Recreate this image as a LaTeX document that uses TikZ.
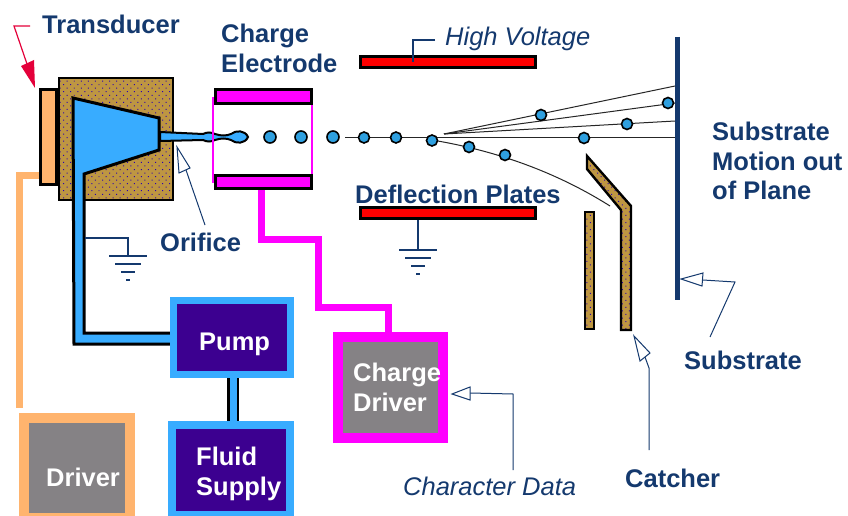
\documentclass[tikz,border=0pt]{standalone}
\usepackage{fontspec}
\setmainfont{Liberation Sans}
\usetikzlibrary{patterns.meta,arrows.meta}
\definecolor{navy}{HTML}{14396E}
\definecolor{skyb}{HTML}{38ACFF}
\definecolor{orng}{HTML}{FFB46E}
\definecolor{brwn}{HTML}{BE9642}
\definecolor{purp}{HTML}{3C0090}
\definecolor{gry}{HTML}{858285}
\definecolor{mag}{HTML}{FF00FF}
\definecolor{dropb}{HTML}{2FA0E0}
\definecolor{crim}{HTML}{E4003A}
\tikzset{
  lab/.style={anchor=base west,inner sep=0pt,text=navy,font=\fontsize{25.5}{26}\selectfont\bfseries},
  ital/.style={anchor=base west,inner sep=0pt,text=navy,font=\fontsize{25.5}{26}\selectfont\itshape},
  wlab/.style={anchor=base west,inner sep=0pt,text=white,font=\fontsize{25.5}{26}\selectfont\bfseries},
  drop/.style={circle,draw=black,line width=1.6pt,fill=dropb,minimum size=11pt,inner sep=0pt},
  smalldrop/.style={drop,minimum size=12pt},
  lead/.style={draw=navy,line width=1.2pt},
  traj/.style={draw=black!85,line width=1pt},
  plate/.style={draw=black,line width=3pt,fill=red},
  mplate/.style={draw=black,line width=3pt,fill=mag},
  brownfill/.style={fill=brwn},
  dots/.style={pattern={Dots[distance=5pt,radius=0.7pt,angle=45]},pattern color=purp!70!blue},
  openhead/.style={draw=navy,line width=1pt,fill=white,line join=miter},
}
\newcommand{\groundsym}[2]{%
  \draw[navy,line width=1.6pt] (#1-19,#2) -- (#1+19,#2);
  \draw[navy,line width=1.6pt] (#1-13,#2+8) -- (#1+13,#2+8);
  \draw[navy,line width=1.6pt] (#1-7,#2+16) -- (#1+7,#2+16);
  \draw[navy,line width=1.6pt] (#1-2,#2+24) -- (#1+2,#2+24);
}
\begin{document}
\begin{tikzpicture}[x=1pt,y=-1pt]
\useasboundingbox (0,0) rectangle (848,516);
\fill[white] (0,0) rectangle (848,516);

% transducer body
\path[brownfill] (59,78) rectangle (173,200);
\path[dots] (59,78) rectangle (173,200);
\draw[black,line width=2pt] (59,78) rectangle (173,200);
\node[draw=black,line width=3pt,fill=orng,minimum width=16pt,minimum height=94pt,inner sep=0pt] (plate) at (48,137) {};

% nozzle and pipe
\draw[black,line width=3pt,fill=skyb,line join=miter] (73,98) -- (159,118) -- (159,150) -- (84,174) -- (84,333) -- (175,333) -- (175,344) -- (74,344) -- cycle;

% connectors under the boxes
\coordinate (pf1) at (233,375);
\coordinate (pf2) at (233,425);
\draw[black,line width=12pt] (pf1) -- (pf2);
\draw[skyb,line width=7pt] (pf1) -- (pf2);
\coordinate (o1) at (19,175);
\draw[orng,line width=7pt] (plate.west |- o1) -- (o1) -- (19,408);
\draw[mag,line width=7pt] (261,190) -- (261,239.5) -- (318.5,239.5) -- (318.5,307.5) -- (388.5,307.5) -- (388.5,332);

% box nodes
\node[draw=skyb,line width=7pt,fill=purp,minimum width=117pt,minimum height=74pt,inner sep=0pt] (pump) at (232,337.5) {};
\node[draw=skyb,line width=8pt,fill=purp,minimum width=118pt,minimum height=90pt,inner sep=0pt] (fluid) at (231,470) {};
\node[draw=mag,line width=10pt,fill=gry,minimum width=105pt,minimum height=101pt,inner sep=0pt] (cdriver) at (390.5,387.5) {};
\node[draw=orng,line width=10pt,fill=gry,minimum width=106pt,minimum height=100pt,inner sep=0pt] (driver) at (77,468) {};

% jet
\draw[black,line width=2pt,fill=skyb] (160,132) -- (203,134) .. controls (207,132) and (211,132) .. (215,134) .. controls (221,136) and (226,136) .. (231,134) .. controls (236,130) and (245,130) .. (248,137) .. controls (245,144) and (236,144) .. (231,140) .. controls (226,138) and (221,138) .. (215,140) .. controls (211,142) and (207,142) .. (203,140) -- (160,141) -- cycle;

% charge electrode
\draw[mag,line width=1.5pt] (213,97) -- (213,183);
\draw[mag,line width=1.5pt] (312,97) -- (312,183);
\node[mplate,minimum width=96pt,minimum height=14pt,inner sep=0pt] (ctop) at (263.5,97) {};
\node[mplate,minimum width=96pt,minimum height=13pt,inner sep=0pt] (cbot) at (263.5,182) {};

% deflection plates
\node[plate,minimum width=175pt,minimum height=11pt,inner sep=0pt] (hv) at (448,62) {};
\node[plate,minimum width=175pt,minimum height=11pt,inner sep=0pt] (dp) at (448,213) {};

% substrate
\draw[navy,line width=5pt] (677,37) -- (677,300);
\coordinate (src) at (444,134);
\draw[traj] (345,137.5) -- (675,137.5);
\draw[traj] (src) -- (675,86);
\draw[traj] (src) -- (675,103);
\draw[traj] (src) -- (675,121);
\draw[traj] (432,140) .. controls (480,148) and (545,165) .. (610,206);

% catcher
\path[brownfill] (587,156) -- (631,206) -- (631,330) -- (621,330) -- (621,210) -- (587,169) -- cycle;
\path[dots] (587,156) -- (631,206) -- (631,330) -- (621,330) -- (621,210) -- (587,169) -- cycle;
\draw[black,line width=2.4pt] (587,156) -- (631,206) -- (631,330) -- (621,330) -- (621,210) -- (587,169) -- cycle;
\path[brownfill] (585,212) rectangle (594,329);
\path[dots] (585,212) rectangle (594,329);
\draw[black,line width=2.4pt] (585,212) rectangle (594,329);

% drops
\node[smalldrop] (d1) at (270,137) {};
\node[smalldrop] (d2) at (301,137) {};
\node[smalldrop] (d3) at (333,137) {};
\node[drop] (e1) at (364,137.5) {};
\node[drop] (e2) at (396,137.5) {};
\node[drop] (e3) at (432,140.5) {};
\node[drop] (e4) at (469,147) {};
\node[drop] (e5) at (505,155) {};
\node[drop] (e6) at (541,115) {};
\node[drop] (e7) at (584,138) {};
\node[drop] (e8) at (627,124) {};
\node[drop] (e9) at (668,103) {};

% grounds
\draw[navy,line width=1.5pt] (85,238) -- (128,238) -- (128,256);
\groundsym{128}{256}
\draw[navy,line width=1.5pt] (418,220) -- (418,250);
\groundsym{418}{250}

% leaders
\coordinate (hvl) at (435,40);
\draw[lead,line width=1.6pt] (hvl) -- (413,40) -- (413,62);

% red arrow
\coordinate (t0) at (30,26);
\coordinate (t1) at (14,26);
\coordinate (t2) at (35,88);
\draw[crim,line width=1.2pt] (t0) -- (t1) -- (27,64);
\fill[crim] (t2) -- (21,66) -- (34,60) -- cycle;

% orifice arrow
\draw[lead,line width=1pt] (205,225) -- (186,170);
\draw[openhead] (177,147) -- (179,173) -- (190,168) -- cycle;
% substrate arrow
\draw[lead,line width=1pt] (703,280) -- (735,282) -- (710,337);
\draw[openhead] (681,279) -- (703,273) -- (702,286) -- cycle;
% catcher arrow
\draw[lead,line width=1pt] (649,450) -- (649,368) -- (645,357);
\draw[openhead] (634,336) -- (640,361) -- (650,353) -- cycle;
% character data arrow
\draw[lead,line width=1pt] (513,470) -- (513,394) -- (470,393);
\draw[openhead] (452,394) -- (470,387) -- (470,400) -- cycle;

% labels
\node[lab] (t-trans) at (42,34) {Transducer};
\node[lab] (t-ch) at (221,43) {Charge};
\node[lab] (t-el) at (221,73) {Electrode};
\node[ital] (t-hv) at (445,46) {High Voltage};
\node[lab] (t-dp) at (355,203) {Deflection Plates};
\node[lab] (t-or) at (160,251) {Orifice};
\node[lab] (t-s1) at (712,140) {Substrate};
\node[lab] (t-s2) at (712,170) {Motion out};
\node[lab] (t-s3) at (712,199) {of Plane};
\node[lab] (t-sub) at (684,369) {Substrate};
\node[lab] (t-cat) at (625,487) {Catcher};
\node[ital] (t-cd) at (403,495) {Character Data};
\node[wlab] (t-p) at (199,350) {Pump};
\node[wlab] (t-c1) at (353,381) {Charge};
\node[wlab] (t-c2) at (353,411) {Driver};
\node[wlab] (t-d) at (46,486) {Driver};
\node[wlab] (t-f1) at (196,465) {Fluid};
\node[wlab] (t-f2) at (196,495) {Supply};
\end{tikzpicture}
\end{document}
